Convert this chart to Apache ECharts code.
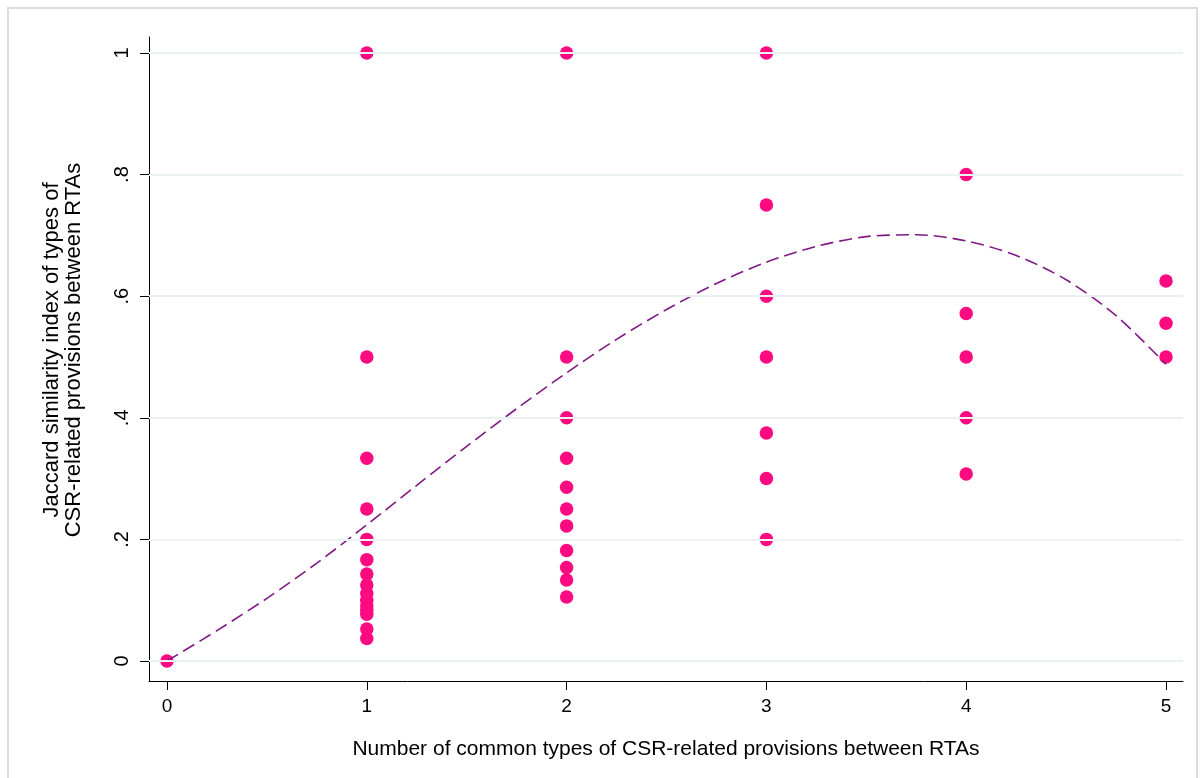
<!DOCTYPE html>
<html>
<head>
<meta charset="utf-8">
<script src="https://cdn.jsdelivr.net/npm/echarts@6/dist/echarts.min.js"></script>
<style>
  html, body { margin: 0; padding: 0; background: #ffffff; }
  #chart { width: 1203px; height: 778px; }
</style>
</head>
<body>
<div id="chart"></div>
<script>
// ---- data ----
const xTicks = [0, 1, 2, 3, 4, 5];
const xTickLabels = ['0', '1', '2', '3', '4', '5'];
const yTicks = [0, 0.2, 0.4, 0.6, 0.8, 1];
const yTickLabels = ['0', '.2', '.4', '.6', '.8', '1'];

// observed points (x = number of common types, y = Jaccard index)
const pointsX0 = [0];
const pointsX1 = [1, 0.5, 0.3333, 0.25, 0.2, 0.1667, 0.1429, 0.125, 0.1111, 0.1, 0.0909, 0.0833, 0.0769, 0.0526, 0.037];
const pointsX2 = [1, 0.5, 0.4, 0.3333, 0.2857, 0.25, 0.2222, 0.1818, 0.1538, 0.1333, 0.1053];
const pointsX3 = [1, 0.75, 0.6, 0.5, 0.375, 0.3, 0.2];
const pointsX4 = [0.8, 0.5714, 0.5, 0.4, 0.3077];
const pointsX5 = [0.625, 0.5556, 0.5];

// fitted curve (dashed)
const fitX = [0, 0.25, 0.5, 0.75, 1, 1.25, 1.5, 1.75, 2, 2.25, 2.5, 2.75, 3, 3.25, 3.5, 3.75, 4, 4.25, 4.5, 4.75, 5];
const fitY = [0, 0.05, 0.103, 0.161, 0.224, 0.289, 0.353, 0.415, 0.474, 0.529, 0.578, 0.621, 0.656, 0.682, 0.698, 0.701, 0.691, 0.667, 0.627, 0.568, 0.488];

const xTitle = 'Number of common types of CSR-related provisions between RTAs';
const yTitle = 'Jaccard similarity index of types of\nCSR-related provisions between RTAs';

// ---- build ----
const scatterData = [];
[[0, pointsX0], [1, pointsX1], [2, pointsX2], [3, pointsX3], [4, pointsX4], [5, pointsX5]].forEach(function (g) {
  g[1].forEach(function (v) { scatterData.push([g[0], v]); });
});
const fitData = fitX.map(function (x, i) { return [x, fitY[i]]; });

const FONT = '"Liberation Sans", Arial, sans-serif';
const chart = echarts.init(document.getElementById('chart'), null, { renderer: 'canvas' });

chart.setOption({
  animation: false,
  backgroundColor: '#ffffff',
  grid: { left: 149, right: 20, top: 37, bottom: 97, containLabel: false },
  xAxis: {
    type: 'value',
    min: -0.09,
    max: 5.085,
    splitLine: { show: false },
    axisLine: { show: true, onZero: false, lineStyle: { color: '#000000', width: 1 } },
    axisTick: { show: true, customValues: xTicks, length: 9, lineStyle: { color: '#000000', width: 1 } },
    axisLabel: {
      customValues: xTicks,
      margin: 16,
      fontSize: 19,
      color: '#000000',
      fontFamily: FONT,
      formatter: function (v) { return xTickLabels[xTicks.indexOf(v)]; }
    },
    name: xTitle,
    nameLocation: 'middle',
    nameGap: 58,
    nameTextStyle: { fontSize: 21, color: '#000000', fontFamily: FONT }
  },
  yAxis: {
    type: 'value',
    min: -0.0329,
    max: 1.0263,
    splitLine: { show: false },
    axisLine: { show: true, onZero: false, lineStyle: { color: '#000000', width: 1 } },
    axisTick: { show: true, customValues: yTicks, length: 9, lineStyle: { color: '#000000', width: 1 } },
    axisLabel: {
      customValues: yTicks,
      rotate: 90,
      margin: 17,
      fontSize: 20,
      color: '#000000',
      fontFamily: FONT,
      formatter: function (v) {
        for (let i = 0; i < yTicks.length; i++) {
          if (Math.abs(yTicks[i] - v) < 1e-9) return yTickLabels[i];
        }
        return '';
      }
    }
  },
  graphic: [
    {
      type: 'rect',
      shape: { x: 8, y: 8, width: 1189, height: 780 },
      style: { fill: 'none', stroke: '#dcdcdc', lineWidth: 2 },
      silent: true,
      z: -10
    },
    {
      type: 'text',
      x: 63,
      y: 350,
      rotation: Math.PI / 2,
      style: {
        text: yTitle,
        fontSize: 22,
        lineHeight: 22,
        fontFamily: FONT,
        fill: '#000000',
        align: 'center',
        verticalAlign: 'middle'
      }
    }
  ],
  series: [
    {
      name: 'grid',
      type: 'line',
      data: [],
      silent: true,
      z: 0,
      markLine: {
        silent: true,
        symbol: ['none', 'none'],
        label: { show: false },
        lineStyle: { color: '#e9f1f3', width: 2, type: 'solid' },
        data: yTicks.map(function (v) { return { yAxis: v }; }),
        animation: false
      }
    },
    {
      name: 'observed',
      type: 'scatter',
      data: scatterData,
      symbol: 'circle',
      symbolSize: 13.5,
      itemStyle: { color: '#ff0a80', opacity: 1 },
      z: 2
    },
    {
      name: 'fit',
      type: 'line',
      data: fitData,
      smooth: 0.3,
      showSymbol: false,
      symbol: 'none',
      lineStyle: { color: '#7f1a84', width: 1.6, type: [13, 6] },
      z: 3
    }
  ]
});
</script>
</body>
</html>
